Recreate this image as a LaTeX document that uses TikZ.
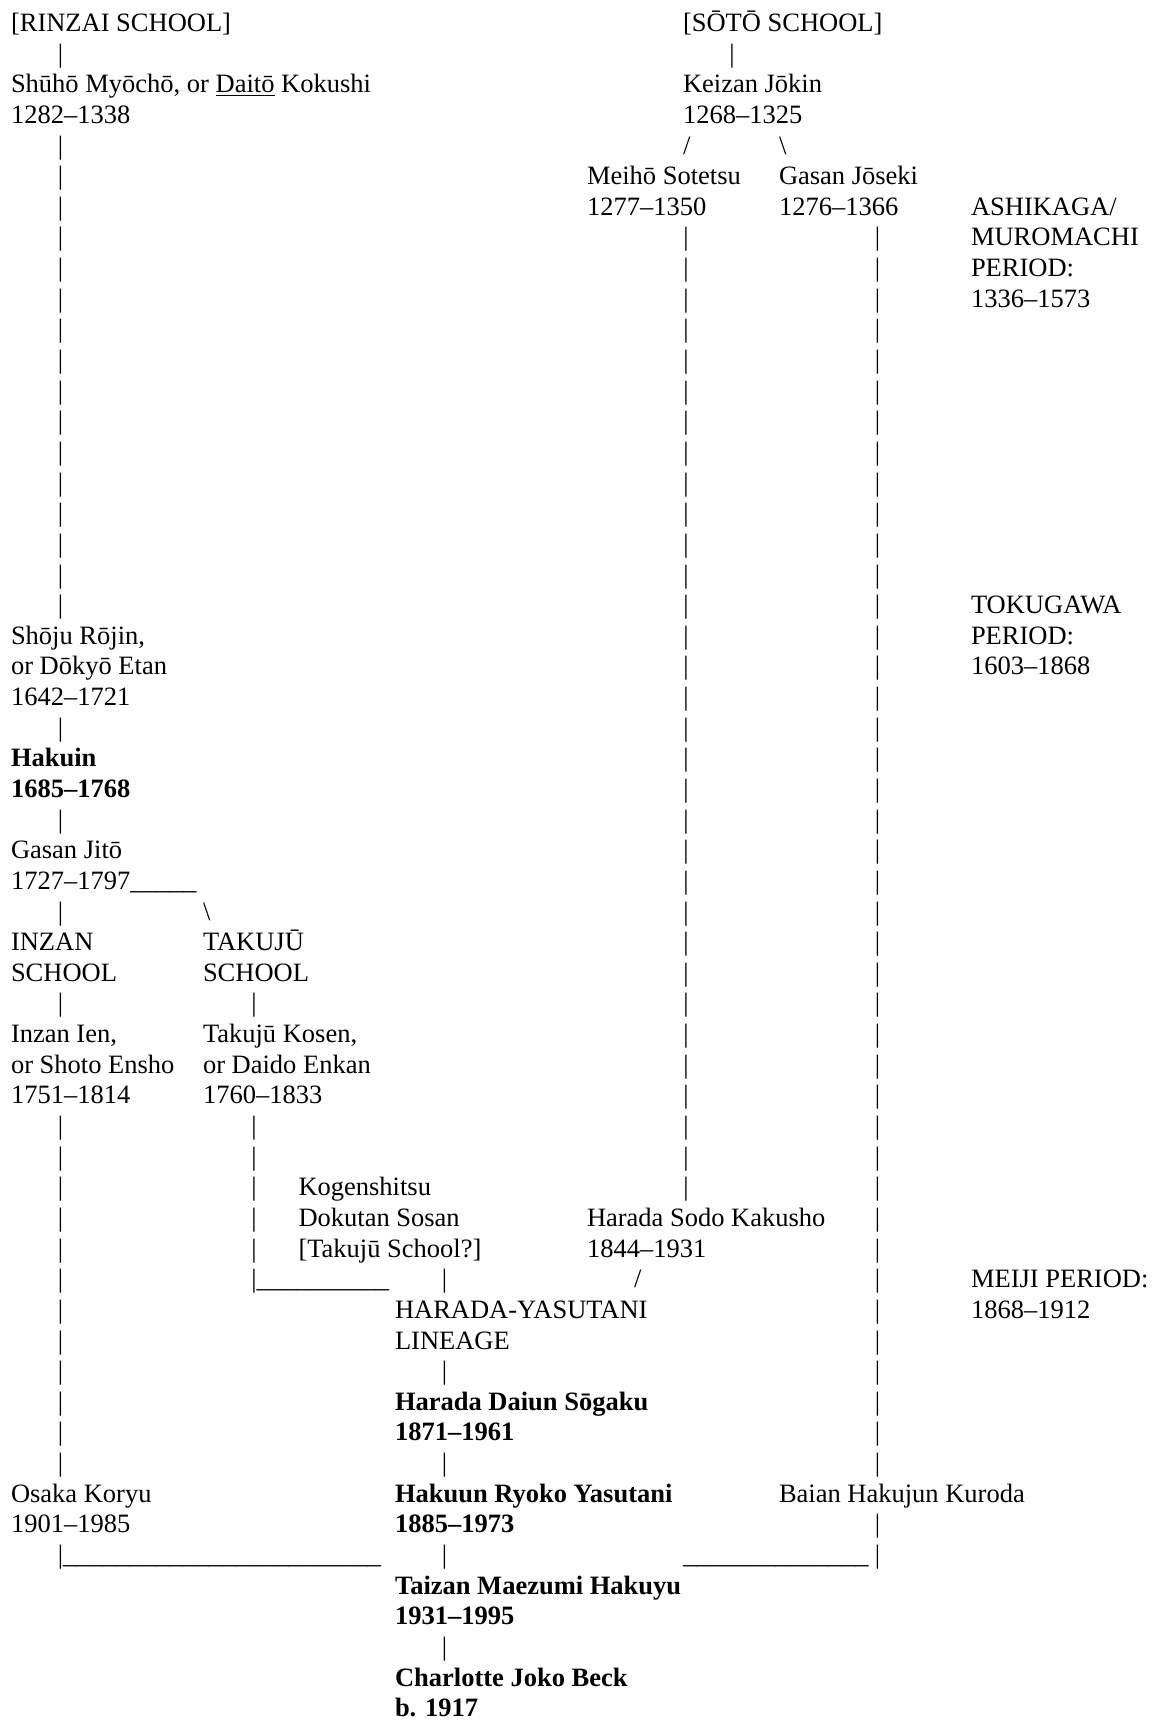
\documentclass[tikz,border=0pt]{standalone}
\usepackage{fontspec}
\setmainfont{Liberation Serif}
\newcommand\ulword[1]{\setbox0=\hbox{#1}\rlap{\rule[-3pt]{\wd0}{1.2pt}}#1}
\newcommand\ry[1]{31.5+30.64*#1}
\tikzset{
  txt/.style={anchor=base west,inner sep=0pt,outer sep=0pt,font=\fontsize{26.5}{30.64}\selectfont},
  btxt/.style={txt,font=\fontsize{26.5}{30.64}\selectfont\bfseries},
  pipe/.style={anchor=base,inner sep=0pt,outer sep=0pt,font=\fontsize{26.5}{30.64}\selectfont}
}
\begin{document}
\begin{tikzpicture}[x=1pt,y=-1pt]
\useasboundingbox[fill=white] (0,0) rectangle (1151,1720);
% ---- column headers
\node[txt] (rinzai) at (11,{\ry{0}}) {[RINZAI SCHOOL]};
\node[txt] (soto) at (683,{\ry{0}}) {[SŌTŌ SCHOOL]};
\node[pipe] (pa1) at (60.5,{\ry{1}}) {|};
\node[pipe] (pf1) at (732,{\ry{1}}) {|};
\node[txt] (shuho) at (11,{\ry{2}}) {Shūhō Myōchō, or \ulword{Daitō} Kokushi};
\node[txt] (shuhoy) at (11,{\ry{3}}) {1282–1338};
\node[txt] (keizan) at (683,{\ry{2}}) {Keizan Jōkin};
\node[txt] (keizany) at (683,{\ry{3}}) {1268–1325};
\node[txt] (sl1) at (683,{\ry{4}}) {/};
\node[txt] (bs1) at (779,{\ry{4}}) {\textbackslash};
\node[txt] (meiho) at (587,{\ry{5}}) {Meihō Sotetsu};
\node[txt] (meihoy) at (587,{\ry{6}}) {1277–1350};
\node[txt] (gasanj) at (779,{\ry{5}}) {Gasan Jōseki};
\node[txt] (gasanjy) at (779,{\ry{6}}) {1276–1366};
% ---- periods
\node[txt] (p1a) at (971,{\ry{6}}) {ASHIKAGA/};
\node[txt] (p1b) at (971,{\ry{7}}) {MUROMACHI};
\node[txt] (p1c) at (971,{\ry{8}}) {PERIOD:};
\node[txt] (p1d) at (971,{\ry{9}}) {1336–1573};
\node[txt] (p2a) at (971,{\ry{19}}) {TOKUGAWA};
\node[txt] (p2b) at (971,{\ry{20}}) {PERIOD:};
\node[txt] (p2c) at (971,{\ry{21}}) {1603–1868};
\node[txt] (p3a) at (971,{\ry{41}}) {MEIJI PERIOD:};
\node[txt] (p3b) at (971,{\ry{42}}) {1868–1912};
% ---- vertical bars
\foreach \r in {4,...,19} \node[pipe] (pa\r) at (60.5,{\ry{\r}}) {|};
\foreach \r in {7,...,38} \node[pipe] (pe\r) at (686,{\ry{\r}}) {|};
\foreach \r in {7,...,47,49,50} \node[pipe] (pg\r) at (877.5,{\ry{\r}}) {|};
\foreach \r in {23,26,29,32,36,37,38,39,40,41,42,43,44,45,46,47} \node[pipe] (pb\r) at (60.5,{\ry{\r}}) {|};
\foreach \r in {32,36,37,38,39,40} \node[pipe] (pc\r) at (254,{\ry{\r}}) {|};
\foreach \r in {41,44,47,50,53} \node[pipe] (pd\r) at (444.5,{\ry{\r}}) {|};
% ---- Rinzai line
\node[txt] (shoju) at (11,{\ry{20}}) {Shōju Rōjin,};
\node[txt] (shoju2) at (11,{\ry{21}}) {or Dōkyō Etan};
\node[txt] (shojuy) at (11,{\ry{22}}) {1642–1721};
\node[btxt] (hakuin) at (11,{\ry{24}}) {Hakuin};
\node[btxt] (hakuiny) at (11,{\ry{25}}) {1685–1768};
\node[txt] (gasan) at (11,{\ry{27}}) {Gasan Jitō};
\node[txt] (gasany) at (11,{\ry{28}}) {1727–1797\_\_\_\_\_};
\node[txt] (bs2) at (203,{\ry{29}}) {\textbackslash};
\node[txt] (inzan) at (11,{\ry{30}}) {INZAN};
\node[txt] (inzan2) at (11,{\ry{31}}) {SCHOOL};
\node[txt] (takuju) at (203,{\ry{30}}) {TAKUJŪ};
\node[txt] (takuju2) at (203,{\ry{31}}) {SCHOOL};
\node[txt] (inzanien) at (11,{\ry{33}}) {Inzan Ien,};
\node[txt] (inzanien2) at (11,{\ry{34}}) {or Shoto Ensho};
\node[txt] (inzanieny) at (11,{\ry{35}}) {1751–1814};
\node[txt] (takujuk) at (203,{\ry{33}}) {Takujū Kosen,};
\node[txt] (takujuk2) at (203,{\ry{34}}) {or Daido Enkan};
\node[txt] (takujuky) at (203,{\ry{35}}) {1760–1833};
\node[txt] (kogen) at (298.5,{\ry{38}}) {Kogenshitsu};
\node[txt] (kogen2) at (298.5,{\ry{39}}) {Dokutan Sosan};
\node[txt] (kogen3) at (298.5,{\ry{40}}) {[Takujū School?]};
\node[txt] (tkjoin) at (251.35,{\ry{41}}) {|\_\_\_\_\_\_\_\_\_\_};
% ---- Harada
\node[txt] (haradas) at (587,{\ry{39}}) {Harada Sodo Kakusho};
\node[txt] (haradasy) at (587,{\ry{40}}) {1844–1931};
\node[txt] (sl2) at (634,{\ry{41}}) {/};
\node[txt] (hy1) at (395,{\ry{42}}) {HARADA-YASUTANI};
\node[txt] (hy2) at (395,{\ry{43}}) {LINEAGE};
\node[btxt] (daiun) at (395,{\ry{45}}) {Harada Daiun Sōgaku};
\node[btxt] (daiuny) at (395,{\ry{46}}) {1871–1961};
\node[txt] (osaka) at (11,{\ry{48}}) {Osaka Koryu};
\node[txt] (osakay) at (11,{\ry{49}}) {1901–1985};
\node[btxt] (yasutani) at (395,{\ry{48}}) {Hakuun Ryoko Yasutani};
\node[btxt] (yasutaniy) at (395,{\ry{49}}) {1885–1973};
\node[txt] (baian) at (779,{\ry{48}}) {Baian Hakujun Kuroda};
\node[txt] (osjoin) at (57.85,{\ry{50}}) {|\_\_\_\_\_\_\_\_\_\_\_\_\_\_\_\_\_\_\_\_\_\_\_\_};
\node[txt] (bajoin) at (683,{\ry{50}}) {\_\_\_\_\_\_\_\_\_\_\_\_\_\_};
\node[btxt] (maezumi) at (395,{\ry{51}}) {Taizan Maezumi Hakuyu};
\node[btxt] (maezumiy) at (395,{\ry{52}}) {1931–1995};
\node[btxt] (beck) at (395,{\ry{54}}) {Charlotte Joko Beck};
\node[btxt] (becky) at (395,{\ry{55}}) {b. 1917};
\end{tikzpicture}
\end{document}
